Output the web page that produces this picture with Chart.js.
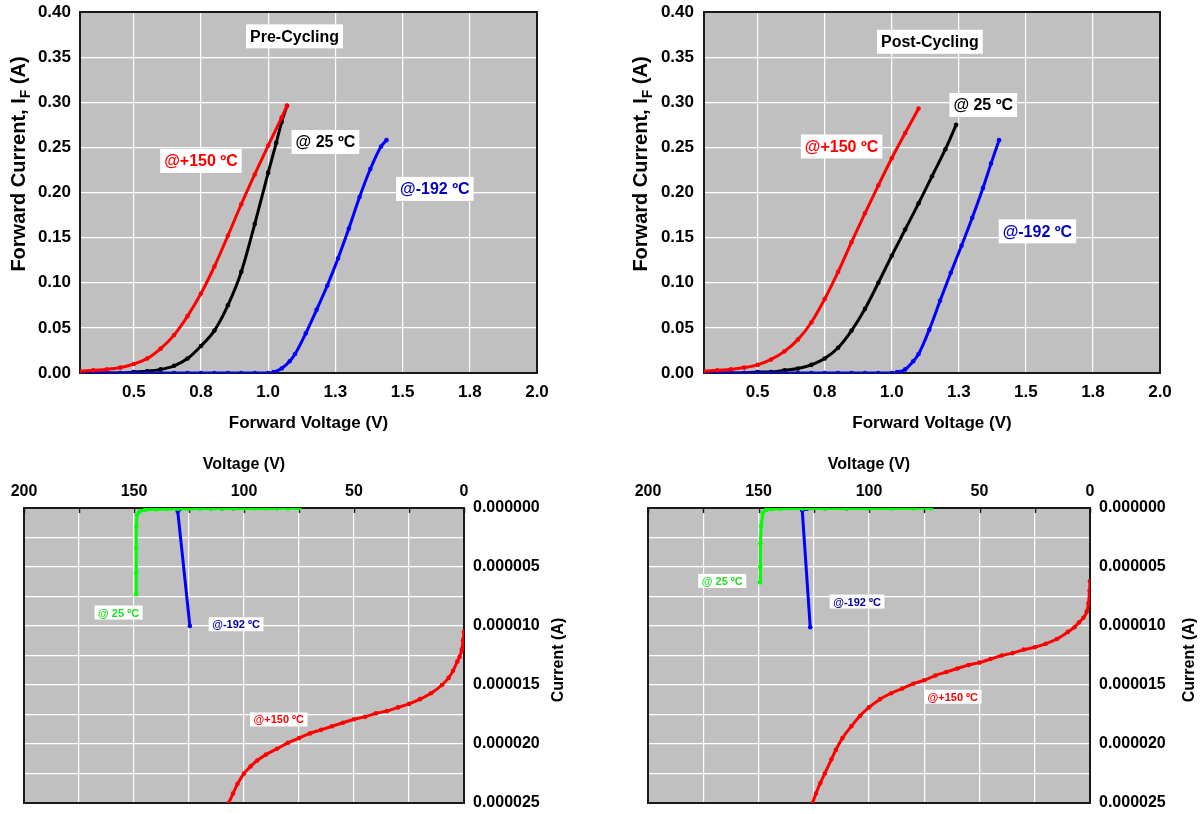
<!DOCTYPE html>
<html>
<head>
<meta charset="utf-8">
<title>Diode I-V before and after cycling</title>
<script src="https://cdn.jsdelivr.net/npm/chart.js@4.4.0/dist/chart.umd.min.js"></script>
<style>
  html, body { margin: 0; padding: 0; background: #fff; }
  body { width: 1202px; height: 814px; position: relative; overflow: hidden; }
  canvas { position: absolute; }
</style>
</head>
<body>
<canvas id="preFwd" width="600" height="440" style="left:0;top:0"></canvas>
<canvas id="postFwd" width="582" height="440" style="left:620px;top:0"></canvas>
<canvas id="preRev" width="600" height="374" style="left:0;top:440px"></canvas>
<canvas id="postRev" width="582" height="374" style="left:620px;top:440px"></canvas>
<script>
// ===============================
// DATA
// ===============================

// forward I-V, pre-cycling (V, A)
const preHotV  = [0.30, 0.35, 0.40, 0.45, 0.50, 0.55, 0.60, 0.65, 0.70, 0.75, 0.80, 0.85, 0.90, 0.95, 1.00, 1.05, 1.07];
const preHotI  = [0.002, 0.003, 0.004, 0.006, 0.010, 0.016, 0.027, 0.042, 0.063, 0.088, 0.118, 0.152, 0.187, 0.220, 0.252, 0.283, 0.296];
const preRoomV = [0.30, 0.35, 0.40, 0.45, 0.50, 0.55, 0.60, 0.65, 0.70, 0.75, 0.80, 0.85, 0.90, 0.95, 1.00, 1.03, 1.05, 1.07];
const preRoomI = [0.000, 0.000, 0.000, 0.000, 0.001, 0.002, 0.004, 0.008, 0.016, 0.030, 0.047, 0.075, 0.112, 0.165, 0.222, 0.255, 0.278, 0.296];
const preColdV = [0.30, 0.35, 0.40, 0.45, 0.50, 0.55, 0.60, 0.65, 0.70, 0.75, 0.80, 0.85, 0.90, 0.95, 1.00, 1.02, 1.05, 1.08, 1.10, 1.14, 1.18, 1.22, 1.26, 1.30, 1.34, 1.38, 1.42, 1.44];
const preColdI = [0, 0, 0, 0, 0, 0, 0, 0, 0, 0, 0, 0, 0, 0, 0, 0.001, 0.005, 0.013, 0.021, 0.044, 0.070, 0.097, 0.127, 0.160, 0.195, 0.226, 0.251, 0.258];

// forward I-V, post-cycling (V, A)
const postHotV  = [0.30, 0.35, 0.40, 0.45, 0.50, 0.55, 0.60, 0.65, 0.70, 0.75, 0.80, 0.85, 0.90, 0.95, 1.00, 1.05, 1.10];
const postHotI  = [0.002, 0.003, 0.004, 0.006, 0.009, 0.015, 0.024, 0.037, 0.056, 0.082, 0.112, 0.145, 0.177, 0.208, 0.238, 0.266, 0.293];
const postRoomV = [0.30, 0.35, 0.40, 0.45, 0.50, 0.55, 0.60, 0.65, 0.70, 0.75, 0.80, 0.85, 0.90, 0.95, 1.00, 1.05, 1.10, 1.15, 1.20, 1.24];
const postRoomI = [0, 0, 0, 0, 0.001, 0.001, 0.003, 0.005, 0.009, 0.016, 0.028, 0.047, 0.071, 0.100, 0.130, 0.159, 0.188, 0.218, 0.248, 0.275];
const postColdV = [0.30, 0.35, 0.40, 0.45, 0.50, 0.55, 0.60, 0.65, 0.70, 0.75, 0.80, 0.85, 0.90, 0.95, 1.00, 1.02, 1.05, 1.08, 1.10, 1.14, 1.18, 1.22, 1.26, 1.30, 1.34, 1.37, 1.40];
const postColdI = [0, 0, 0, 0, 0, 0, 0, 0, 0, 0, 0, 0, 0, 0, 0, 0.001, 0.004, 0.013, 0.021, 0.048, 0.080, 0.111, 0.141, 0.172, 0.205, 0.232, 0.258];

// reverse leakage, pre-cycling (V, uA)
const revPreRoomV = [149.0, 149.0, 149.0, 148.9, 148.6, 147.5, 145, 140, 135, 130, 125, 120, 115, 110, 105, 100, 95, 90, 85, 80, 75];
const revPreRoomI = [7.3, 5.5, 3.4, 1.6, 0.6, 0.3, 0.15, 0.1, 0.08, 0.07, 0.06, 0.05, 0.05, 0.05, 0.04, 0.04, 0.04, 0.04, 0.03, 0.03, 0.03];
const revPreColdV = [124.6, 130.1, 129, 125, 120, 115, 110, 105];
const revPreColdI = [10.0, 0.3, 0.05, 0.03, 0.02, 0.02, 0.02, 0.02];
const revPreHotV  = [107, 105, 103, 100, 97, 94, 90, 85, 80, 75, 70, 65, 60, 55, 50, 45, 40, 35, 30, 25, 20, 15, 10, 7, 5, 3, 2, 1, 0.4, 0];
const revPreHotI  = [25.0, 24.2, 23.4, 22.5, 21.9, 21.4, 20.9, 20.4, 19.9, 19.5, 19.1, 18.8, 18.5, 18.2, 17.9, 17.7, 17.4, 17.2, 16.9, 16.6, 16.2, 15.7, 15.0, 14.4, 13.8, 13.0, 12.6, 12.0, 11.2, 10.5];

// reverse leakage, post-cycling (V, uA)
const revPostRoomV = [149.3, 149.2, 149.1, 148.8, 148.0, 146.5, 144, 140, 130, 120, 110, 100, 90, 80, 72];
const revPostRoomI = [6.3, 5.0, 3.0, 1.5, 0.4, 0.15, 0.08, 0.06, 0.05, 0.05, 0.04, 0.04, 0.04, 0.03, 0.03];
const revPostColdV = [126.6, 130.2, 128, 120, 110, 100];
const revPostColdI = [10.1, 0.2, 0.05, 0.02, 0.02, 0.02];
const revPostHotV  = [125.5, 124, 122, 120, 117, 115, 112, 108, 104, 100, 95, 90, 85, 80, 75, 70, 65, 60, 55, 50, 45, 40, 35, 30, 25, 20, 15, 10, 7, 5, 3, 1.5, 0.7, 0.2, 0];
const revPostHotI  = [25.0, 24.2, 23.3, 22.5, 21.3, 20.5, 19.5, 18.5, 17.6, 16.9, 16.2, 15.7, 15.3, 14.9, 14.6, 14.2, 13.9, 13.6, 13.3, 13.1, 12.8, 12.5, 12.3, 12.0, 11.8, 11.5, 11.1, 10.5, 10.1, 9.7, 9.3, 8.8, 8.1, 7.0, 6.2];

// ticks
const fwdXTicks = [0.5, 0.75, 1.0, 1.25, 1.5, 1.75, 2.0];
const fwdXTickLabels = ["0.5", "0.8", "1.0", "1.3", "1.5", "1.8", "2.0"];
const fwdYTicks = [0, 0.05, 0.10, 0.15, 0.20, 0.25, 0.30, 0.35, 0.40];
const fwdYTickLabels = ["0.00", "0.05", "0.10", "0.15", "0.20", "0.25", "0.30", "0.35", "0.40"];
const revXTicks = [0, 25, 50, 75, 100, 125, 150, 175, 200];
const revXTickLabels = ["0", "", "50", "", "100", "", "150", "", "200"];
const revYTicks = [0, 2.5, 5, 7.5, 10, 12.5, 15, 17.5, 20, 22.5, 25];
const revYTickLabels = ["0.000000", "", "0.000005", "", "0.000010", "", "0.000015", "", "0.000020", "", "0.000025"];

const FONT = "'Liberation Sans', Arial, sans-serif";
const RED = "#ff0000", BLACK = "#000000", BLUE = "#0000ff", GREEN = "#00ff00";

// ===============================
// HELPERS
// ===============================

function series(xs, ys, color, smooth) {
    return {
        data: xs.map((x, i) => ({ x: x, y: ys[i] })),
        showLine: true,
        borderColor: color,
        backgroundColor: color,
        borderWidth: 3,
        pointRadius: 2.3,
        pointBorderWidth: 0,
        pointHoverRadius: 0,
        cubicInterpolationMode: smooth ? "monotone" : "default",
        tension: 0
    };
}

function fixedTicks(values) {
    return function (scale) {
        scale.ticks = values.map(v => ({ value: v }));
    };
}

function drawRotated(ctx, parts, cx, cy, size) {
    // parts: [{text, sub}] drawn bottom-to-top, centred on (cx, cy)
    ctx.save();
    ctx.translate(cx, cy);
    ctx.rotate(-Math.PI / 2);
    ctx.fillStyle = "#000";
    ctx.textAlign = "left";
    ctx.textBaseline = "alphabetic";
    const small = Math.round(size * 0.7);
    let total = 0;
    const widths = parts.map(p => {
        ctx.font = "bold " + (p.sub ? small : size) + "px " + FONT;
        const w = ctx.measureText(p.text).width;
        total += w;
        return w;
    });
    let x = -total / 2;
    const base = size * 0.36;
    parts.forEach((p, i) => {
        ctx.font = "bold " + (p.sub ? small : size) + "px " + FONT;
        ctx.fillText(p.text, x, p.sub ? base + size * 0.22 : base);
        x += widths[i];
    });
    ctx.restore();
}

// background, frame, boxed labels and axis titles
const plotDecor = {
    id: "plotDecor",
    beforeDraw(chart) {
        const { ctx, chartArea: a } = chart;
        ctx.save();
        ctx.fillStyle = "#c0c0c0";
        ctx.fillRect(a.left, a.top, a.right - a.left, a.bottom - a.top);
        ctx.restore();
    },
    beforeDatasetsDraw(chart, args, o) {
        const { ctx, chartArea: a, scales } = chart;
        ctx.save();
        ctx.strokeStyle = "#1a1a1a";
        ctx.lineWidth = 2;
        ctx.strokeRect(a.left, a.top, a.right - a.left, a.bottom - a.top);

        if (o.topTicks) {
            ctx.lineWidth = 1.5;
            scales.x.ticks.forEach(t => {
                const px = Math.round(scales.x.getPixelForValue(t.value)) + 0.5;
                ctx.beginPath();
                ctx.moveTo(px, a.top);
                ctx.lineTo(px, a.top + 5);
                ctx.stroke();
            });
        }
        ctx.restore();
    },
    afterDraw(chart, args, o) {
        const { ctx, chartArea: a, scales } = chart;
        ctx.save();
        (o.labels || []).forEach(l => {
            const px = scales.x.getPixelForValue(l.x);
            const py = scales.y.getPixelForValue(l.y);
            ctx.font = "bold " + o.labelSize + "px " + FONT;
            const w = ctx.measureText(l.text).width;
            ctx.fillStyle = "#fff";
            ctx.fillRect(px - w / 2 - o.labelPad, py - o.labelBox / 2, w + 2 * o.labelPad, o.labelBox);
            ctx.fillStyle = l.color;
            ctx.textAlign = "center";
            ctx.textBaseline = "middle";
            ctx.fillText(l.text, px, py + 1);
        });

        // horizontal axis title
        ctx.fillStyle = "#000";
        ctx.font = "bold " + o.xTitleSize + "px " + FONT;
        ctx.textAlign = "center";
        ctx.textBaseline = "middle";
        ctx.fillText(o.xTitle, (a.left + a.right) / 2, o.xTitleY);
        ctx.restore();

        drawRotated(ctx, o.yTitle, o.yTitleX, o.yTitleY, o.yTitleSize);
    }
};

function tickFont(size) {
    return { family: FONT, size: size, weight: "bold" };
}

// grid with an invisible tick mark, so the label gap does not pad the chart area
function gridOpts(gap) {
    return {
        color: "#ffffff", lineWidth: 1.2,
        drawTicks: gap > 0, tickLength: gap, tickColor: "rgba(0,0,0,0)"
    };
}

// ===============================
// FORWARD CHARTS
// ===============================

function forwardChart(id, datasets, labels, geo) {
    return new Chart(document.getElementById(id), {
        type: "scatter",
        data: { datasets: datasets },
        plugins: [plotDecor],
        options: {
            responsive: false,
            animation: false,
            events: [],
            layout: { padding: { top: 12, right: geo.padRight, left: 0, bottom: 0 } },
            plugins: {
                legend: { display: false },
                tooltip: { enabled: false },
                plotDecor: {
                    labels: labels,
                    labelSize: 16, labelPad: 4, labelBox: 24,
                    xTitle: "Forward Voltage (V)", xTitleSize: 17, xTitleY: 423,
                    yTitle: [{ text: "Forward Current, I" }, { text: "F", sub: true }, { text: " (A)" }],
                    yTitleSize: 20, yTitleX: geo.yTitleX, yTitleY: 164
                }
            },
            scales: {
                x: {
                    type: "linear", min: 0.3, max: 2.0,
                    afterBuildTicks: fixedTicks(fwdXTicks),
                    afterFit: s => { s.height = 67; },
                    ticks: {
                        autoSkip: false, maxRotation: 0, padding: 9, color: "#000",
                        font: tickFont(17),
                        callback: (v, i) => fwdXTickLabels[i]
                    },
                    grid: gridOpts(0),
                    border: { display: false }
                },
                y: {
                    type: "linear", min: 0, max: 0.4,
                    afterBuildTicks: fixedTicks(fwdYTicks),
                    afterFit: s => { s.width = geo.axisW; },
                    ticks: {
                        autoSkip: false, padding: 1, color: "#000",
                        font: tickFont(17),
                        callback: (v, i) => fwdYTickLabels[i]
                    },
                    grid: gridOpts(geo.tickPad - 1),
                    border: { display: false }
                }
            }
        }
    });
}

// ===============================
// REVERSE CHARTS
// ===============================

function reverseChart(id, datasets, labels, geo) {
    return new Chart(document.getElementById(id), {
        type: "scatter",
        data: { datasets: datasets },
        plugins: [plotDecor],
        options: {
            responsive: false,
            animation: false,
            events: [],
            layout: { padding: { top: 0, right: 0, left: geo.padLeft, bottom: 11 } },
            plugins: {
                legend: { display: false },
                tooltip: { enabled: false },
                plotDecor: {
                    labels: labels, topTicks: true,
                    labelSize: 11, labelPad: 3.5, labelBox: 14,
                    xTitle: "Voltage (V)", xTitleSize: 16, xTitleY: 25,
                    yTitle: [{ text: "Current (A)" }],
                    yTitleSize: 16, yTitleX: geo.yTitleX, yTitleY: 220
                }
            },
            scales: {
                x: {
                    type: "linear", position: "top", reverse: true, min: 0, max: 200,
                    afterBuildTicks: fixedTicks(revXTicks),
                    afterFit: s => { s.height = 68; },
                    ticks: {
                        autoSkip: false, maxRotation: 0, padding: 7, color: "#000",
                        font: tickFont(16),
                        callback: (v, i) => revXTickLabels[i]
                    },
                    grid: gridOpts(0),
                    border: { display: false }
                },
                y: {
                    type: "linear", position: "right", reverse: true, min: 0, max: 25,
                    afterBuildTicks: fixedTicks(revYTicks),
                    afterFit: s => { s.width = geo.axisW; },
                    ticks: {
                        autoSkip: false, padding: 1, color: "#000",
                        font: tickFont(16),
                        callback: (v, i) => revYTickLabels[i]
                    },
                    grid: gridOpts(8),
                    border: { display: false }
                }
            }
        }
    });
}

document.addEventListener("DOMContentLoaded", () => {
    forwardChart("preFwd", [
        series(preHotV, preHotI, RED, true),
        series(preColdV, preColdI, BLUE, true),
        series(preRoomV, preRoomI, BLACK, true)
    ], [
        { text: "Pre-Cycling", x: 1.098, y: 0.373, color: "#000000" },
        { text: "@+150 ºC", x: 0.75, y: 0.235, color: "#ff0000" },
        { text: "@ 25 ºC", x: 1.213, y: 0.256, color: "#000000" },
        { text: "@-192 ºC", x: 1.62, y: 0.204, color: "#0000c0" }
    ], { padRight: 63, axisW: 80, tickPad: 9, yTitleX: 18 });

    forwardChart("postFwd", [
        series(postHotV, postHotI, RED, true),
        series(postColdV, postColdI, BLUE, true),
        series(postRoomV, postRoomI, BLACK, true)
    ], [
        { text: "Post-Cycling", x: 1.142, y: 0.367, color: "#000000" },
        { text: "@+150 ºC", x: 0.813, y: 0.251, color: "#ff0000" },
        { text: "@ 25 ºC", x: 1.341, y: 0.297, color: "#000000" },
        { text: "@-192 ºC", x: 1.543, y: 0.157, color: "#0000c0" }
    ], { padRight: 42, axisW: 84, tickPad: 10, yTitleX: 20 });

    reverseChart("preRev", [
        series(revPreRoomV, revPreRoomI, GREEN, false),
        series(revPreColdV, revPreColdI, BLUE, false),
        series(revPreHotV, revPreHotI, RED, true)
    ], [
        { text: "@ 25 ºC", x: 157.0, y: 8.86, color: "#22dd22" },
        { text: "@-192 ºC", x: 103.6, y: 9.85, color: "#000099" },
        { text: "@+150 ºC", x: 84.2, y: 17.92, color: "#ff0000" }
    ], { padLeft: 24, axisW: 136, yTitleX: 557 });

    reverseChart("postRev", [
        series(revPostRoomV, revPostRoomI, GREEN, false),
        series(revPostColdV, revPostColdI, BLUE, false),
        series(revPostHotV, revPostHotI, RED, true)
    ], [
        { text: "@ 25 ºC", x: 166.4, y: 6.18, color: "#22dd22" },
        { text: "@-192 ºC", x: 105.4, y: 7.93, color: "#000099" },
        { text: "@+150 ºC", x: 62.1, y: 16.0, color: "#ff0000" }
    ], { padLeft: 28, axisW: 112, yTitleX: 568 });
});
</script>
</body>
</html>
